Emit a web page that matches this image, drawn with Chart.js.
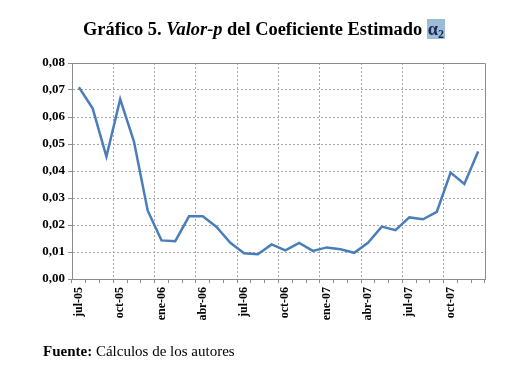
<!DOCTYPE html>
<html>
<head>
<meta charset="utf-8">
<script src="https://cdn.jsdelivr.net/npm/chart.js@4"></script>
<style>
    body { margin: 0; background: #fff; }
    #wrap { position: relative; width: 522px; height: 376px; overflow: hidden; }
    #chart { position: absolute; left: 0; top: 0; }
    #title {
        position: absolute; left: 83px; top: 19px; white-space: nowrap;
        font-family: "Liberation Serif", serif; font-weight: bold; font-size: 18.4px; line-height: 20px; color: #000;
    }
    #title .hl { background: #9dbdd6; color: #1b2a5a; padding: 0 1px; }
    #title sub { font-size: 12px; vertical-align: -3px; }
    #source {
        position: absolute; left: 43px; top: 343px; white-space: nowrap;
        font-family: "Liberation Serif", serif; font-size: 15px; color: #000;
    }
</style>
</head>
<body>
<div id="wrap">
    <canvas id="chart" width="522" height="376"></canvas>
    <div id="title">Gráfico 5. <i>Valor-p</i> del Coeficiente Estimado <span class="hl">α<sub>2</sub></span></div>
    <div id="source"><b>Fuente:</b> Cálculos de los autores</div>
</div>
<script>
    // months jul-05 .. dic-07
    const months = ['jul-05', 'ago-05', 'sep-05', 'oct-05', 'nov-05', 'dic-05',
        'ene-06', 'feb-06', 'mar-06', 'abr-06', 'may-06', 'jun-06',
        'jul-06', 'ago-06', 'sep-06', 'oct-06', 'nov-06', 'dic-06',
        'ene-07', 'feb-07', 'mar-07', 'abr-07', 'may-07', 'jun-07',
        'jul-07', 'ago-07', 'sep-07', 'oct-07', 'nov-07', 'dic-07'];

    const pValues = [0.0710, 0.0632, 0.0453, 0.0666, 0.0509, 0.0253,
        0.0143, 0.0140, 0.0232, 0.0232, 0.0193, 0.0134,
        0.0095, 0.0092, 0.0128, 0.0106, 0.0134, 0.0104,
        0.0117, 0.0110, 0.0097, 0.0134, 0.0194, 0.0181,
        0.0228, 0.0221, 0.0249, 0.0394, 0.0352, 0.0472];

    const yTicks = [0, 0.01, 0.02, 0.03, 0.04, 0.05, 0.06, 0.07, 0.08];

    const gridGray = '#a6a6a6';
    const axisGray = '#8c8c8c';

    // solid frame on top and right side of the plot
    const framePlugin = {
        id: 'frame',
        afterDraw(chart) {
            const a = chart.chartArea, ctx = chart.ctx;
            ctx.save();
            ctx.strokeStyle = axisGray;
            ctx.lineWidth = 1;
            ctx.beginPath();
            ctx.moveTo(a.left, a.top + 0.5);
            ctx.lineTo(a.right + 0.5, a.top + 0.5);
            ctx.lineTo(a.right + 0.5, a.bottom);
            ctx.stroke();
            ctx.restore();
        }
    };

    new Chart(document.getElementById('chart'), {
        type: 'line',
        data: {
            labels: months,
            datasets: [{
                data: pValues,
                borderColor: '#4a7ebb',
                borderWidth: 2.5,
                pointRadius: 0,
                tension: 0,
                fill: false
            }]
        },
        options: {
            responsive: false,
            animation: false,
            devicePixelRatio: 1,
            layout: { padding: { top: 63, right: 37, bottom: 47, left: 0 } },
            plugins: { legend: { display: false }, tooltip: { enabled: false } },
            scales: {
                x: {
                    offset: true,
                    afterFit: s => { s.height = 50; },
                    grid: {
                        offset: true,
                        color: c => (c.index % 3 === 0 && c.index > 0 && c.index < months.length) ? gridGray : 'rgba(0,0,0,0)',
                        tickColor: axisGray,
                        tickLength: 4
                    },
                    border: { color: axisGray, dash: [2, 2] },
                    ticks: {
                        autoSkip: false,
                        minRotation: 90,
                        maxRotation: 90,
                        padding: 4,
                        color: '#000',
                        font: { family: 'Liberation Serif', size: 12, weight: 'bold' },
                        callback: (v, i) => i % 3 === 0 ? months[i] : ''
                    }
                },
                y: {
                    min: 0,
                    max: 0.08,
                    afterFit: s => { s.width = 72; },
                    afterBuildTicks: s => { s.ticks = yTicks.map(v => ({ value: v })); },
                    grid: {
                        color: c => (c.tick && c.tick.value > 0) ? gridGray : 'rgba(0,0,0,0)',
                        tickColor: axisGray,
                        tickLength: 4
                    },
                    border: { color: axisGray, dash: [2, 2] },
                    ticks: {
                        padding: 3,
                        color: '#000',
                        font: { family: 'Liberation Serif', size: 13, weight: 'bold' },
                        callback: v => v.toFixed(2).replace('.', ',')
                    }
                }
            }
        },
        plugins: [framePlugin]
    });
</script>
</body>
</html>
